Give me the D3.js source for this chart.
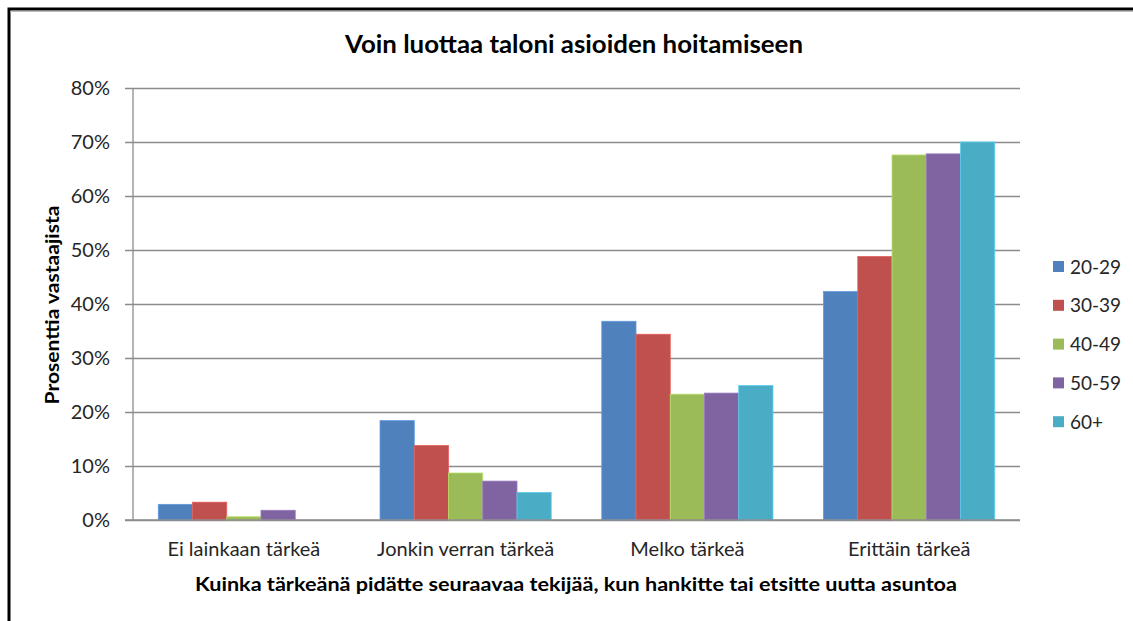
<!DOCTYPE html>
<html>
<head>
<meta charset="utf-8">
<script src="https://cdn.jsdelivr.net/npm/d3@7"></script>
<style>
  html, body { margin: 0; padding: 0; background: #fff; }
  svg { display: block; font-family: Lato, "Open Sans", sans-serif; }
</style>
</head>
<body>
<svg id="chart" width="1133" height="621"></svg>
<script>
// Response categories on the x axis
const categories = ["Ei lainkaan tärkeä", "Jonkin verran tärkeä", "Melko tärkeä", "Erittäin tärkeä"];
// Age groups (series)
const series = ["20-29", "30-39", "40-49", "50-59", "60+"];
// Share of respondents per age group, in category order
const values2029 = [2.9, 18.4, 36.8, 42.3];
const values3039 = [3.3, 13.8, 34.4, 48.8];
const values4049 = [0.6, 8.7, 23.3, 67.6];
const values5059 = [1.8, 7.2, 23.5, 67.8];
const values60 = [0.0, 5.1, 24.9, 70.0];
const yTicks = [0, 10, 20, 30, 40, 50, 60, 70, 80];
const colors = ["#4F81BD", "#C0504D", "#9BBB59", "#8064A2", "#4BACC6"];

const seriesValues = [values2029, values3039, values4049, values5059, values60];

const svg = d3.select("#chart");
const plot = { left: 133, right: 1020, top: 88, bottom: 520 };

// Outer frame (top and left edges visible)
svg.append("path")
  .attr("d", "M9,621 L9,9 L1133,9")
  .attr("fill", "none")
  .attr("stroke", "#000")
  .attr("stroke-width", 3);
svg.append("line")
  .attr("x1", 10).attr("x2", 1133).attr("y1", 11.5).attr("y2", 11.5)
  .attr("stroke", "#bbb").attr("stroke-width", 1);

const y = d3.scaleLinear().domain([0, 80]).range([plot.bottom, plot.top]);
const x0 = d3.scaleBand().domain(categories).range([plot.left, plot.right]).padding(0);
const bw = x0.bandwidth();
const x1 = d3.scaleBand().domain(series).range([bw * 0.114, bw * 0.886]).padding(0);

// Gridlines and y ticks
const yAxis = d3.axisLeft(y)
  .tickValues(yTicks)
  .tickSize(-(plot.right - plot.left))
  .tickPadding(23)
  .tickFormat(d => d + "%");
const gy = svg.append("g")
  .attr("transform", `translate(${plot.left},0)`)
  .call(yAxis);
gy.select(".domain").remove();
gy.selectAll(".tick line")
  .attr("x1", -8)
  .attr("stroke", "#8c8c8c")
  .attr("stroke-width", 1.3);
gy.selectAll(".tick text")
  .attr("fill", "#262626")
  .style("font-size", "20px")
  .style("font-family", "Lato, sans-serif");

// Vertical axis line
svg.append("line")
  .attr("x1", plot.left).attr("x2", plot.left)
  .attr("y1", plot.top).attr("y2", plot.bottom)
  .attr("stroke", "#8c8c8c").attr("stroke-width", 1.3);

// Bars
const groups = svg.append("g").selectAll("g")
  .data(categories)
  .join("g")
  .attr("transform", d => `translate(${x0(d)},0)`);

groups.selectAll("rect")
  .data((c, ci) => series.map((s, si) => ({ s, si, v: seriesValues[si][ci] })))
  .join("rect")
  .filter(d => d.v > 0)
  .attr("x", d => x1(d.s))
  .attr("y", d => y(d.v))
  .attr("width", x1.bandwidth())
  .attr("height", d => y(0) - y(d.v))
  .attr("fill", d => colors[d.si])
  .attr("stroke", d => d3.color(colors[d.si]).brighter(0.5))
  .attr("stroke-width", 0.8);

// Baseline
svg.append("line")
  .attr("x1", plot.left - 8).attr("x2", plot.right)
  .attr("y1", plot.bottom).attr("y2", plot.bottom)
  .attr("stroke", "#8c8c8c").attr("stroke-width", 1.3);

// Category labels
const xAxis = d3.axisBottom(x0).tickSize(0).tickPadding(22);
const gx = svg.append("g")
  .attr("transform", `translate(0,${plot.bottom})`)
  .call(xAxis);
gx.select(".domain").remove();
gx.selectAll(".tick text")
  .attr("fill", "#262626")
  .style("font-size", "20px")
  .style("font-family", "Lato, sans-serif");

// Title
svg.append("text")
  .attr("x", 574).attr("y", 53)
  .attr("text-anchor", "middle")
  .attr("textLength", 458)
  .attr("lengthAdjust", "spacingAndGlyphs")
  .style("font-size", "25px")
  .style("font-weight", "bold")
  .attr("fill", "#000")
  .text("Voin luottaa taloni asioiden hoitamiseen");

// Axis titles
svg.append("text")
  .attr("x", 576).attr("y", 591)
  .attr("text-anchor", "middle")
  .attr("textLength", 762)
  .attr("lengthAdjust", "spacingAndGlyphs")
  .style("font-size", "19px")
  .style("font-weight", "bold")
  .attr("fill", "#000")
  .text("Kuinka tärkeänä pidätte seuraavaa tekijää, kun hankitte tai etsitte uutta asuntoa");

svg.append("text")
  .attr("transform", "translate(59,305) rotate(-90)")
  .attr("text-anchor", "middle")
  .attr("textLength", 199)
  .attr("lengthAdjust", "spacingAndGlyphs")
  .style("font-size", "19px")
  .style("font-weight", "bold")
  .attr("fill", "#000")
  .text("Prosenttia vastaajista");

// Legend
const legend = svg.append("g").selectAll("g")
  .data(series)
  .join("g")
  .attr("transform", (d, i) => `translate(1053,${266.5 + i * 38.8})`);
legend.append("rect")
  .attr("x", 0).attr("y", -5.5)
  .attr("width", 11).attr("height", 11)
  .attr("fill", (d, i) => colors[i]);
legend.append("text")
  .attr("x", 17).attr("y", 7)
  .style("font-size", "19px")
  .attr("fill", "#262626")
  .text(d => d);
</script>
</body>
</html>
